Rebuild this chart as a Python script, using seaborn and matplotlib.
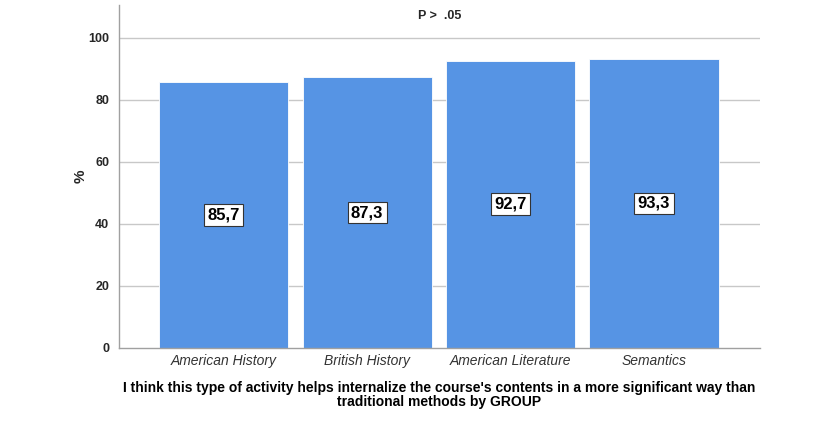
import numpy as np
import pandas as pd
import matplotlib
matplotlib.use("Agg")
import matplotlib.pyplot as plt
import seaborn as sns

groups = ["American History", "British History", "American Literature", "Semantics"]
percent = [85.7, 87.3, 92.7, 93.3]
yticks = [0, 20, 40, 60, 80, 100]

df = pd.DataFrame({"group": groups, "pct": percent})

sns.set_style("white")
plt.rcParams['font.family'] = ['Liberation Sans', 'DejaVu Sans']

fig = plt.figure(figsize=(8.2, 4.38), dpi=100)
ax = fig.add_axes([0.145, 0.2055, 0.782, 0.783])

for y in yticks[1:]:
    ax.axhline(y, color='#c8c8c8', lw=1, zorder=0)

sns.barplot(data=df, x="group", y="pct", color='#5694e4', saturation=1,
            width=0.9, edgecolor='white', linewidth=0.6, ax=ax, zorder=2)

for i, v in enumerate(percent):
    ax.text(i, v / 2, f"{v:.1f}".replace(".", ","), ha='center', va='center',
            fontsize=12, fontweight='bold', color='black', zorder=3,
            bbox=dict(boxstyle='square,pad=0.2', fc='white', ec='#333333', lw=0.8))

ax.set_xlim(-0.73, 3.74)
ax.set_ylim(0, 110.6)
ax.set_yticks(yticks)
ax.set_yticklabels([str(t) for t in yticks], fontsize=9, fontweight='bold')
ax.tick_params(axis='y', length=0, pad=7)
ax.tick_params(axis='x', length=0, pad=4)
for lab in ax.get_xticklabels():
    lab.set_fontstyle('italic')
    lab.set_fontsize(10)
    lab.set_color('#333333')

for s in ['top', 'right']:
    ax.spines[s].set_visible(False)
for s in ['left', 'bottom']:
    ax.spines[s].set_color('#a0a0a0')
    ax.spines[s].set_linewidth(1)

ax.set_ylabel('%', fontsize=11, fontweight='bold')
ax.yaxis.set_label_coords(-0.049, 0.5)
ax.set_xlabel("I think this type of activity helps internalize the course's contents in a more significant way than\ntraditional methods by GROUP",
              fontsize=10, fontweight='bold', labelpad=10, linespacing=1.0, color='black')
ax.text(0.5, 0.985, 'P >  .05', transform=ax.transAxes, ha='center', va='top',
        fontsize=9, fontweight='bold')

fig.savefig('out.png', dpi=100)
